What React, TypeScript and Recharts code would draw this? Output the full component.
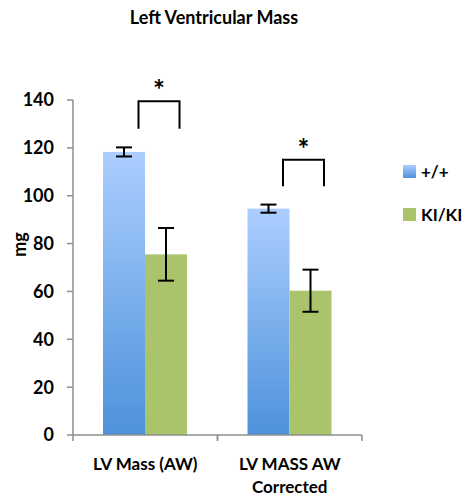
import { BarChart, Bar, XAxis, YAxis, ErrorBar } from 'recharts';

const categories = ['LV Mass (AW)', 'LV MASS AW Corrected'];
const categoryLines = [['LV Mass (AW)'], ['LV MASS AW', 'Corrected']];
const wildType = [118.3, 94.6];
const wildTypeErr = [1.9, 1.7];
const knockIn = [75.5, 60.3];
const knockInErr = [11, 8.8];
const bracketTop = [139.5, 115];
const bracketBottom = [128, 104];
const yTicks = [0, 20, 40, 60, 80, 100, 120, 140];
const seriesNames = ['+/+', 'KI/KI'];

const FONT = 'Lato, "Open Sans", sans-serif';
const AXIS_GREY = '#8e8e8e';
const GREEN = '#a9c46b';

const data = categories.map((c, i) => ({
  category: c,
  lines: categoryLines[i],
  wildType: wildType[i],
  wildTypeErr: wildTypeErr[i],
  knockIn: knockIn[i],
  knockInErr: knockInErr[i],
  bracketTop: bracketTop[i],
  bracketBottom: bracketBottom[i],
}));

// x tick: label lines plus boundary ticks like Excel (between categories)
function CategoryTick(props: any) {
  const { x, y, payload, index, width, visibleTicksCount } = props;
  const row = data[index] ?? data.find((d) => d.category === payload.value);
  const band = width && visibleTicksCount ? width / visibleTicksCount : 0;
  return (
    <g>
      {band > 0 && (
        <>
          <line x1={x - band / 2} x2={x - band / 2} y1={y - 6} y2={y} stroke={AXIS_GREY} strokeWidth={1.5} />
          <line x1={x + band / 2} x2={x + band / 2} y1={y - 6} y2={y} stroke={AXIS_GREY} strokeWidth={1.5} />
        </>
      )}
      <text x={x} y={y + 29} textAnchor="middle" fontFamily={FONT} fontWeight={700} fontSize={17} fill="#000">
        {(row?.lines ?? [payload.value]).map((l: string, i: number) => (
          <tspan key={i} x={x} dy={i === 0 ? 0 : 23}>
            {l}
          </tspan>
        ))}
      </text>
    </g>
  );
}

function BlueBar(props: any) {
  const { x, y, width, height } = props;
  if (!height) return null;
  return <rect x={x} y={y} width={width} height={height} fill="url(#blueGrad)" />;
}

// green bar plus the significance bracket drawn above the pair
function GreenBar(props: any) {
  const { x, y, width, height, payload } = props;
  if (!height) return null;
  const base = y + height;
  const ppu = height / payload.knockIn;
  const top = base - payload.bracketTop * ppu;
  const bottom = base - payload.bracketBottom * ppu;
  const left = x - 6.5;
  const right = x + width - 7.5;
  return (
    <g>
      <rect x={x} y={y} width={width} height={height} fill={GREEN} />
      <path
        d={`M${left},${bottom} L${left},${top} L${right},${top} L${right},${bottom}`}
        fill="none"
        stroke="#000"
        strokeWidth={2}
      />
      <text x={(left + right) / 2} y={top - 1} textAnchor="middle" fontFamily={FONT} fontWeight={700} fontSize={28} fill="#000">
        *
      </text>
    </g>
  );
}

export default function App() {
  return (
    <div style={{ position: 'absolute', left: 0, top: 0, width: 465, height: 499, background: '#fff' }}>
      <div
        style={{
          position: 'absolute',
          left: 0,
          width: 428,
          top: 6,
          textAlign: 'center',
          fontFamily: FONT,
          fontWeight: 700,
          fontSize: 18,
        }}
      >
        Left Ventricular Mass
      </div>
      <BarChart
        width={465}
        height={499}
        data={data}
        margin={{ top: 100, right: 103, bottom: 0, left: 0 }}
        barSize={42}
        barGap={0}
      >
        <defs>
          <linearGradient id="blueGrad" x1="0" y1="0" x2="0" y2="1">
            <stop offset="0%" stopColor="#acceff" />
            <stop offset="100%" stopColor="#4d92db" />
          </linearGradient>
        </defs>
        <XAxis
          dataKey="category"
          height={64}
          interval={0}
          tickLine={false}
          tickSize={6}
          tickMargin={0}
          axisLine={{ stroke: AXIS_GREY, strokeWidth: 1.5 }}
          tick={<CategoryTick />}
        />
        <YAxis
          width={73}
          domain={[0, 140]}
          ticks={yTicks}
          interval={0}
          tickSize={6}
          tickMargin={13}
          axisLine={{ stroke: AXIS_GREY, strokeWidth: 1.5 }}
          tickLine={{ stroke: AXIS_GREY, strokeWidth: 1.5 }}
          tick={{ fontFamily: FONT, fontWeight: 700, fontSize: 18, fill: '#000' }}
          label={{
            content: ({ viewBox }: any) => {
              const cy = viewBox.y + viewBox.height / 2 - 23;
              return (
                <text
                  x={19}
                  y={cy}
                  transform={`rotate(-90, 19, ${cy})`}
                  textAnchor="middle"
                  dominantBaseline="central"
                  fontFamily={FONT}
                  fontWeight={700}
                  fontSize={18}
                  fill="#000"
                >
                  mg
                </text>
              );
            },
          }}
        />
        <Bar dataKey="wildType" name={seriesNames[0]} shape={<BlueBar />} isAnimationActive={false}>
          <ErrorBar dataKey="wildTypeErr" width={8} strokeWidth={2} stroke="#000" direction="y" />
        </Bar>
        <Bar dataKey="knockIn" name={seriesNames[1]} shape={<GreenBar />} isAnimationActive={false}>
          <ErrorBar dataKey="knockInErr" width={8} strokeWidth={2} stroke="#000" direction="y" />
        </Bar>
      </BarChart>
      {seriesNames.map((name, i) => (
        <div
          key={name}
          style={{
            position: 'absolute',
            left: 403,
            top: i === 0 ? 161 : 204,
            display: 'flex',
            alignItems: 'center',
            fontFamily: FONT,
            fontWeight: 700,
            fontSize: 17,
          }}
        >
          <span
            style={{
              display: 'inline-block',
              width: 13,
              height: 13,
              marginRight: 5,
              background: i === 0 ? 'linear-gradient(#acceff, #4d92db)' : GREEN,
            }}
          />
          {name}
        </div>
      ))}
    </div>
  );
}
